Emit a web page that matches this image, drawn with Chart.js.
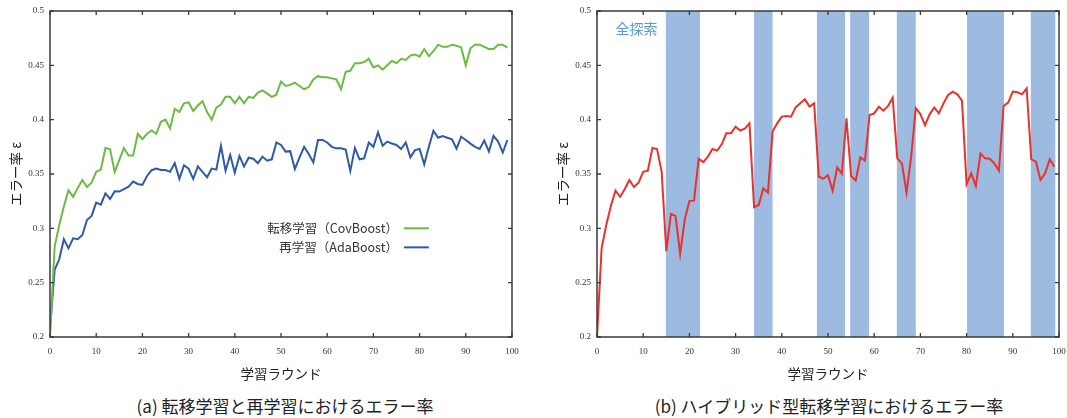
<!DOCTYPE html>
<html><head><meta charset="utf-8">
<script src="https://cdn.jsdelivr.net/npm/chart.js@4.4.1/dist/chart.umd.min.js"></script>
<style>
html,body{margin:0;padding:0;background:#fff;}
#wrap{position:relative;width:1067px;height:418px;overflow:hidden;}
canvas{position:absolute;top:0;}
.cap{position:absolute;top:393px;font-family:"Noto Sans CJK JP","Noto Sans",sans-serif;font-size:17px;color:#222;white-space:nowrap;transform:translateX(-50%);}
</style></head>
<body><div id="wrap">
<canvas id="c1" width="533" height="390" style="left:0px"></canvas>
<canvas id="c2" width="520" height="390" style="left:547px"></canvas>
<div class="cap" style="left:285px">(a) 転移学習と再学習におけるエラー率</div>
<div class="cap" style="left:829px">(b) ハイブリッド型転移学習におけるエラー率</div>
</div>
<script>
// ---- data ----
const rounds = [...Array(100).keys()];
const xTicks = [0,10,20,30,40,50,60,70,80,90,100];
const yTicks = [0.2,0.25,0.3,0.35,0.4,0.45,0.5];
const yTickLabels = ["0.2","0.25","0.3","0.35","0.4","0.45","0.5"];
const covBoost = [0.200,0.283,0.303,0.320,0.335,0.329,0.337,0.3445,0.338,0.342,
0.352,0.354,0.374,0.373,0.352,0.363,0.374,0.367,0.367,0.387,
0.382,0.387,0.390,0.387,0.398,0.400,0.392,0.410,0.407,0.415,
0.416,0.408,0.413,0.417,0.407,0.400,0.411,0.414,0.421,0.421,
0.415,0.421,0.415,0.421,0.420,0.425,0.427,0.424,0.421,0.423,
0.435,0.431,0.432,0.434,0.431,0.428,0.430,0.437,0.440,0.439,
0.439,0.438,0.437,0.428,0.444,0.445,0.452,0.452,0.453,0.456,
0.448,0.450,0.446,0.450,0.454,0.452,0.456,0.455,0.459,0.460,
0.458,0.465,0.4585,0.463,0.469,0.467,0.467,0.469,0.468,0.4665,
0.450,0.4657,0.469,0.469,0.467,0.465,0.465,0.469,0.469,0.4663];
const adaBoost = [0.208,0.2617,0.2715,0.290,0.2816,0.2908,0.290,0.2939,0.3077,0.3114,
0.3236,0.3218,0.3322,0.327,0.334,0.3338,0.336,0.3383,0.343,0.3408,
0.340,0.3482,0.3535,0.355,0.3537,0.3537,0.352,0.360,0.3455,0.358,
0.355,0.3455,0.357,0.352,0.347,0.355,0.354,0.376,0.353,0.3675,
0.3512,0.3666,0.357,0.365,0.364,0.360,0.366,0.3623,0.3635,0.379,
0.3767,0.3706,0.371,0.3546,0.365,0.375,0.3684,0.3607,0.3813,0.3813,
0.379,0.375,0.3736,0.3736,0.3724,0.3528,0.374,0.3635,0.3644,0.379,
0.375,0.3883,0.376,0.3798,0.378,0.3767,0.373,0.379,0.3653,0.372,
0.373,0.3589,0.375,0.3898,0.3834,0.385,0.3834,0.382,0.3733,0.3843,
0.3813,0.378,0.375,0.373,0.3807,0.3706,0.385,0.3798,0.3697,0.3813];
const hybrid = [0.200,0.2816,0.303,0.3206,0.3346,0.329,0.336,0.3445,0.338,0.342,
0.352,0.353,0.374,0.373,0.352,0.279,0.3132,0.3114,0.2764,0.3083,
0.3252,0.3255,0.364,0.361,0.366,0.373,0.3715,0.3773,0.3874,0.3874,
0.3936,0.390,0.3917,0.3966,0.3194,0.3215,0.3368,0.3328,0.389,0.3966,
0.4028,0.4034,0.4028,0.4113,0.415,0.4187,0.412,0.415,0.3475,0.3457,
0.349,0.3346,0.3561,0.3503,0.4012,0.3482,0.344,0.3653,0.3623,0.4043,
0.4058,0.412,0.4083,0.4126,0.4202,0.3644,0.3598,0.3328,0.366,0.4107,
0.4052,0.395,0.4049,0.4113,0.4058,0.415,0.4227,0.4258,0.4233,0.4175,
0.3405,0.3506,0.339,0.369,0.3644,0.364,0.3598,0.3531,0.4126,0.4157,
0.4258,0.4252,0.4233,0.4288,0.3635,0.3613,0.3445,0.3506,0.3635,0.3567];
const bandStart = [14.9,34.0,47.6,54.8,64.9,80.1,93.9];
const bandEnd   = [22.3,38.0,53.7,58.9,69.0,88.1,99.2];

const legendLabels = ["転移学習（CovBoost）","再学習（AdaBoost）"];
const C_GREEN = "#6cbb43", C_BLUE = "#2f5aa8", C_RED = "#e8322b", C_BAND = "#9dbbe1";
const sansFont = '"Noto Sans CJK JP","Noto Sans",sans-serif';

function pts(arr){ return arr.map((v,i)=>({x:rounds[i], y:v})); }

// frame + inward ticks on all four sides
const framePlugin = {
  id:'frame',
  afterDatasetsDraw(chart){
    const {ctx, chartArea:a, scales:{x,y}} = chart;
    ctx.save();
    ctx.strokeStyle = '#3a3a3a'; ctx.lineWidth = 1.3;
    ctx.beginPath();
    xTicks.forEach(v=>{const px=x.getPixelForValue(v);
      ctx.moveTo(px,a.bottom); ctx.lineTo(px,a.bottom-4);
      ctx.moveTo(px,a.top); ctx.lineTo(px,a.top+4);});
    yTicks.forEach(v=>{const py=y.getPixelForValue(v);
      ctx.moveTo(a.left,py); ctx.lineTo(a.left+4,py);
      ctx.moveTo(a.right,py); ctx.lineTo(a.right-4,py);});
    ctx.stroke();
    ctx.lineWidth = 1.5;
    ctx.strokeRect(a.left, a.top, a.right-a.left, a.bottom-a.top);
    ctx.restore();
  }
};
const bandPlugin = {
  id:'bands',
  beforeDatasetsDraw(chart, args, opts){
    if(!opts.on) return;
    const {ctx, chartArea:a, scales:{x}} = chart;
    ctx.save(); ctx.fillStyle = C_BAND;
    bandStart.forEach((s,k)=>{
      const x0=x.getPixelForValue(s), x1=x.getPixelForValue(bandEnd[k]);
      ctx.fillRect(x0,a.top,x1-x0,a.bottom-a.top);
    });
    ctx.fillStyle = '#5b9bd5';
    ctx.font = '14px '+sansFont; ctx.textBaseline='middle'; ctx.textAlign='left';
    ctx.fillText('全探索', x.getPixelForValue(4), chart.scales.y.getPixelForValue(0.484));
    ctx.restore();
  }
};
const legendPlugin = {
  id:'lgd',
  afterDatasetsDraw(chart, args, opts){
    if(!opts.on) return;
    const {ctx, scales:{x,y}} = chart;
    ctx.save();
    ctx.font = '12.5px '+sansFont; ctx.textAlign='right'; ctx.textBaseline='middle';
    const xr = x.getPixelForValue(75.3);
    chart.data.datasets.forEach((ds,k)=>{
      const py = y.getPixelForValue(0.3 - k*0.0175) ;
      ctx.fillStyle = '#333';
      ctx.fillText(legendLabels[k], xr, py);
      ctx.strokeStyle = ds.borderColor; ctx.lineWidth = 2;
      ctx.beginPath(); ctx.moveTo(xr+6,py); ctx.lineTo(xr+31,py); ctx.stroke();
    });
    ctx.restore();
  }
};

function makeOpts(rightPad, withBands, withLegend){
  return {
    responsive:false, animation:false, devicePixelRatio:1,
    layout:{padding:{top:11,right:rightPad,left:0,bottom:0}},
    plugins:{legend:{display:false}, tooltip:{enabled:false},
      bands:{on:withBands}, lgd:{on:withLegend}},
    elements:{point:{radius:0}, line:{tension:0, borderWidth:2}},
    scales:{
      x:{type:'linear', min:0, max:100,
        afterFit(s){s.height=53; s.paddingLeft=0; s.paddingRight=0;},
        afterBuildTicks(s){s.ticks = xTicks.map(v=>({value:v}));},
        grid:{display:false, drawTicks:false}, border:{display:false},
        ticks:{padding:9, color:'#333', font:{family:'"Liberation Serif",serif', size:9},
          maxRotation:0, callback:(v)=>String(v)},
        title:{display:true, text:'学習ラウンド', color:'#222',
          font:{family:sansFont, size:13.5}, padding:{top:0,bottom:8}}},
      y:{type:'linear', min:0.2, max:0.5,
        afterFit(s){s.width=50; s.paddingTop=0; s.paddingBottom=0;},
        afterBuildTicks(s){s.ticks = yTicks.map(v=>({value:v}));},
        grid:{display:false, drawTicks:false}, border:{display:false},
        ticks:{padding:6, color:'#333', font:{family:'"Liberation Serif",serif', size:9},
          callback:(v)=>{const k=yTicks.findIndex(t=>Math.abs(t-v)<1e-9); return k>=0?yTickLabels[k]:'';}},
        title:{display:true, text:'エラー率 ε', color:'#222',
          font:{family:sansFont, size:13.5}, padding:{top:8,bottom:0}}}
    }
  };
}

new Chart(document.getElementById('c1'), {
  type:'line',
  data:{datasets:[
    {label:legendLabels[0], data:pts(covBoost), borderColor:C_GREEN},
    {label:legendLabels[1], data:pts(adaBoost), borderColor:C_BLUE}
  ]},
  options:makeOpts(21,false,true),
  plugins:[framePlugin, legendPlugin]
});
new Chart(document.getElementById('c2'), {
  type:'line',
  data:{datasets:[
    {label:'ハイブリッド型転移学習', data:pts(hybrid), borderColor:C_RED}
  ]},
  options:makeOpts(8,true,false),
  plugins:[bandPlugin, framePlugin]
});
</script>
</body></html>
